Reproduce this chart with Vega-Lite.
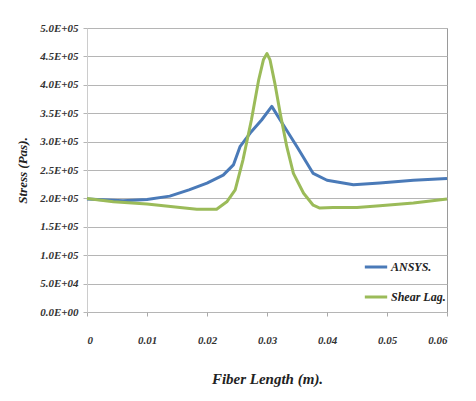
{
  "$schema": "https://vega.github.io/schema/vega-lite/v6.json",
  "width": 360,
  "height": 284,
  "autosize": {"type": "none"},
  "padding": {"left": 87, "top": 28, "right": 29, "bottom": 89},
  "background": "white",
  "config": {
    "font": "Times New Roman, Liberation Serif, serif",
    "view": {"stroke": "#9a9a9a", "strokeWidth": 1}
  },
  "data": {
    "values": [
      {"len": 0.0, "stress": 199000, "series": "ANSYS."},
      {"len": 0.006, "stress": 196000, "series": "ANSYS."},
      {"len": 0.01, "stress": 198000, "series": "ANSYS."},
      {"len": 0.0138, "stress": 204000, "series": "ANSYS."},
      {"len": 0.017, "stress": 215000, "series": "ANSYS."},
      {"len": 0.02, "stress": 227000, "series": "ANSYS."},
      {"len": 0.0227, "stress": 241000, "series": "ANSYS."},
      {"len": 0.0244, "stress": 259000, "series": "ANSYS."},
      {"len": 0.0255, "stress": 291000, "series": "ANSYS."},
      {"len": 0.0272, "stress": 315000, "series": "ANSYS."},
      {"len": 0.0291, "stress": 338000, "series": "ANSYS."},
      {"len": 0.0308, "stress": 362000, "series": "ANSYS."},
      {"len": 0.0322, "stress": 338000, "series": "ANSYS."},
      {"len": 0.035, "stress": 291000, "series": "ANSYS."},
      {"len": 0.0377, "stress": 244000, "series": "ANSYS."},
      {"len": 0.04, "stress": 232000, "series": "ANSYS."},
      {"len": 0.0444, "stress": 224000, "series": "ANSYS."},
      {"len": 0.0488, "stress": 227000, "series": "ANSYS."},
      {"len": 0.0544, "stress": 232000, "series": "ANSYS."},
      {"len": 0.06, "stress": 235000, "series": "ANSYS."},
      {"len": 0.0, "stress": 200000, "series": "Shear Lag."},
      {"len": 0.0044, "stress": 194000, "series": "Shear Lag."},
      {"len": 0.01, "stress": 190000, "series": "Shear Lag."},
      {"len": 0.0155, "stress": 184000, "series": "Shear Lag."},
      {"len": 0.0183, "stress": 181000, "series": "Shear Lag."},
      {"len": 0.0216, "stress": 181000, "series": "Shear Lag."},
      {"len": 0.0233, "stress": 194000, "series": "Shear Lag."},
      {"len": 0.0247, "stress": 215000, "series": "Shear Lag."},
      {"len": 0.026, "stress": 268000, "series": "Shear Lag."},
      {"len": 0.0274, "stress": 338000, "series": "Shear Lag."},
      {"len": 0.0286, "stress": 408000, "series": "Shear Lag."},
      {"len": 0.0294, "stress": 444000, "series": "Shear Lag."},
      {"len": 0.03, "stress": 455000, "series": "Shear Lag."},
      {"len": 0.0305, "stress": 444000, "series": "Shear Lag."},
      {"len": 0.0313, "stress": 403000, "series": "Shear Lag."},
      {"len": 0.0322, "stress": 350000, "series": "Shear Lag."},
      {"len": 0.0333, "stress": 291000, "series": "Shear Lag."},
      {"len": 0.0344, "stress": 244000, "series": "Shear Lag."},
      {"len": 0.0361, "stress": 209000, "series": "Shear Lag."},
      {"len": 0.0377, "stress": 188000, "series": "Shear Lag."},
      {"len": 0.0388, "stress": 183000, "series": "Shear Lag."},
      {"len": 0.041, "stress": 184000, "series": "Shear Lag."},
      {"len": 0.045, "stress": 184000, "series": "Shear Lag."},
      {"len": 0.0488, "stress": 187000, "series": "Shear Lag."},
      {"len": 0.0544, "stress": 192000, "series": "Shear Lag."},
      {"len": 0.06, "stress": 199000, "series": "Shear Lag."}
    ]
  },
  "mark": {"type": "line", "strokeWidth": 3, "interpolate": "linear", "strokeJoin": "round"},
  "encoding": {
    "x": {
      "field": "len",
      "type": "quantitative",
      "scale": {"domain": [0, 0.06], "nice": false},
      "axis": {
        "title": "Fiber Length (m).",
        "values": [0, 0.01, 0.02, 0.03, 0.04, 0.05, 0.06],
        "labelExpr": "datum.value == 0 ? '0' : format(datum.value, '.2f')",
        "grid": false,
        "domain": false,
        "tickSize": 4,
        "tickColor": "#aaaaaa",
        "labelFont": "Times New Roman, Liberation Serif, serif",
        "labelFontStyle": "italic",
        "labelFontWeight": "bold",
        "labelFontSize": 11,
        "labelColor": "#333333",
        "labelPadding": 18,
        "titleFont": "Times New Roman, Liberation Serif, serif",
        "titleFontStyle": "italic",
        "titleFontWeight": "bold",
        "titleFontSize": 15,
        "titleColor": "#222222",
        "titlePadding": 26
      }
    },
    "y": {
      "field": "stress",
      "type": "quantitative",
      "scale": {"domain": [0, 500000], "nice": false},
      "axis": {
        "title": "Stress (Pas).",
        "values": [0, 50000, 100000, 150000, 200000, 250000, 300000, 350000, 400000, 450000, 500000],
        "labelExpr": "replace(upper(format(datum.value, '.1e')), 'E+', 'E+0')",
        "grid": true,
        "gridColor": "#b5b5b5",
        "gridWidth": 1,
        "domainColor": "#cccccc",
        "tickColor": "#b5b5b5",
        "tickSize": 4,
        "labelFont": "Times New Roman, Liberation Serif, serif",
        "labelFontStyle": "italic",
        "labelFontWeight": "bold",
        "labelFontSize": 11,
        "labelColor": "#333333",
        "labelPadding": 5,
        "titleFont": "Times New Roman, Liberation Serif, serif",
        "titleFontStyle": "italic",
        "titleFontWeight": "bold",
        "titleFontSize": 13,
        "titleColor": "#222222",
        "titlePadding": 10
      }
    },
    "color": {
      "field": "series",
      "type": "nominal",
      "scale": {"domain": ["ANSYS.", "Shear Lag."], "range": ["#4a7ab8", "#9bbb59"]},
      "legend": {
        "title": null,
        "orient": "none",
        "legendX": 276,
        "legendY": 226,
        "padding": 0,
        "symbolType": "stroke",
        "symbolSize": 500,
        "symbolStrokeWidth": 3,
        "rowPadding": 11,
        "labelFont": "Times New Roman, Liberation Serif, serif",
        "labelFontStyle": "italic",
        "labelFontWeight": "bold",
        "labelFontSize": 12,
        "labelColor": "#222222",
        "labelOffset": 2
      }
    }
  }
}
